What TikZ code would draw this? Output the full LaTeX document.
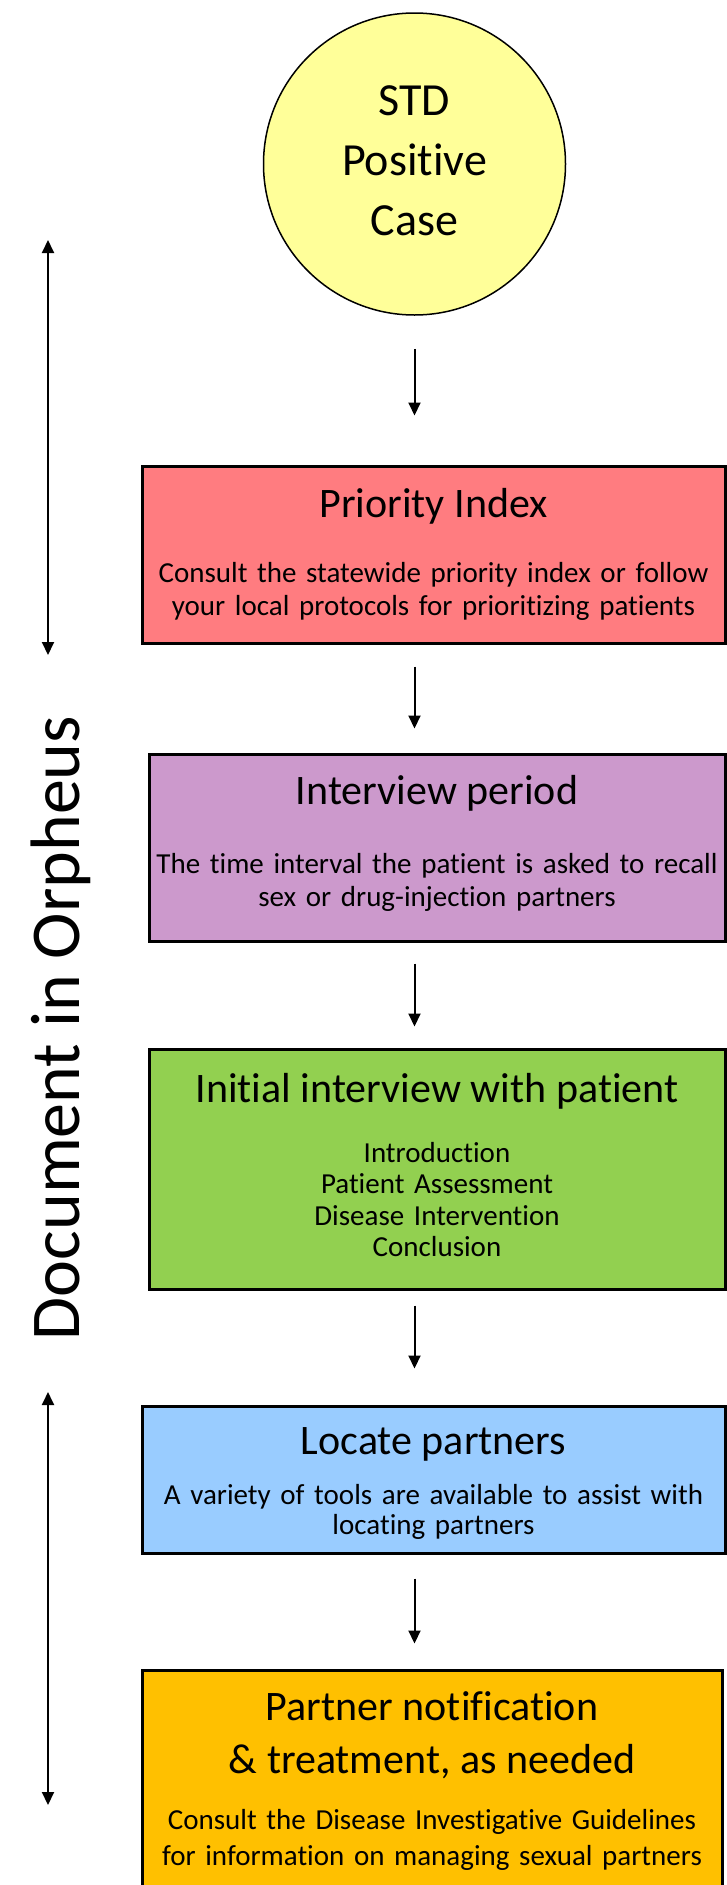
\documentclass[tikz,border=0pt]{standalone}
\usepackage{fontspec}
\setmainfont{Carlito}[Ligatures=NoCommon]
\usetikzlibrary{arrows.meta,positioning}

\definecolor{casefill}{HTML}{FFFF99}
\definecolor{priofill}{HTML}{FF7C80}
\definecolor{periodfill}{HTML}{CC99CC}
\definecolor{intfill}{HTML}{92D050}
\definecolor{locfill}{HTML}{99CCFF}
\definecolor{notefill}{HTML}{FFC000}

\newcommand{\headsize}{\fontsize{42}{50}\selectfont}
\newcommand{\bodysize}{\fontsize{29}{33}\selectfont}
\newcommand{\lift}[1]{\par\vspace*{#1}\hrule height0pt width0pt}

\begin{document}
\begin{tikzpicture}[x=1pt, y=-1pt,
  stepbox/.style={rectangle, draw, line width=3pt, inner sep=0pt, text width=570pt, align=center, font=\bodysize},
  flow/.style={-{Triangle[length=13pt,width=12pt]}, line width=2pt},
  bothways/.style={{Triangle[length=13pt,width=12pt]}-{Triangle[length=13pt,width=12pt]}, line width=2pt}
]
  \useasboundingbox (0,0) rectangle (726,1885);

  % start of the flow
  \node[circle, draw, line width=1.5pt, fill=casefill, minimum size=302pt, inner sep=0pt,
        text width=220pt, align=center, font=\fontsize{46}{60}\selectfont] (case) at (414.5,164) {STD\\Positive\\Case\lift{6pt}};

  % steps
  \node[stepbox, fill=priofill, minimum width=583pt, minimum height=177pt] (prio) at (433.5,554.5)
    {{\headsize Priority Index}\\[32pt]Consult the statewide priority index or follow\\your local protocols for prioritizing patients};
  \node[stepbox, fill=periodfill, minimum width=576pt, minimum height=187pt] (period) at (437,847.5)
    {{\headsize Interview period}\\[36pt]The time interval the patient is asked to recall\\sex or drug-injection partners\lift{8pt}};
  \node[stepbox, fill=intfill, minimum width=576pt, minimum height=240pt, font=\fontsize{29}{31.5}\selectfont] (interview) at (437,1169)
    {{\headsize Initial interview with patient}\\[28pt]Introduction\\Patient Assessment\\Disease Intervention\\Conclusion\lift{7pt}};
  \node[stepbox, fill=locfill, minimum width=583pt, minimum height=147pt, font=\fontsize{29}{31}\selectfont] (locate) at (433.5,1479.5)
    {{\headsize Locate partners}\\[19pt]A variety of tools are available to assist with\\locating partners\lift{-8pt}};
  \node[stepbox, fill=notefill, minimum width=580pt, minimum height=222pt, font=\fontsize{29}{36}\selectfont] (notify) at (432,1781)
    {{\headsize Partner notification}\\[17pt]{\headsize \& treatment, as needed}\\[20pt]Consult the Disease Investigative Guidelines\\for information on managing sexual partners};

  % arrows between steps
  \draw[flow, shorten <=33pt, shorten >=49pt] (case.south) -- (case.south |- prio.north);
  \draw[flow, shorten <=22pt, shorten >=24pt] (case.south |- prio.south) -- (case.south |- period.north);
  \draw[flow, shorten <=21pt, shorten >=21pt] (case.south |- period.south) -- (case.south |- interview.north);
  \draw[flow, shorten <=15pt, shorten >=36pt] (case.south |- interview.south) -- (case.south |- locate.north);
  \draw[flow, shorten <=24pt, shorten >=25pt] (case.south |- locate.south) -- (case.south |- notify.north);

  % side label
  \node[rotate=90, anchor=base, font=\fontsize{70}{80}\selectfont] (orpheus) at (79,1028) {Document in Orpheus};
  \coordinate (upA) at (48,240);
  \coordinate (upB) at (48,655);
  \coordinate (lowA) at (48,1392);
  \coordinate (lowB) at (48,1805);
  \draw[bothways] (upA) -- (upB);
  \draw[bothways] (lowA) -- (lowB);
\end{tikzpicture}
\end{document}
